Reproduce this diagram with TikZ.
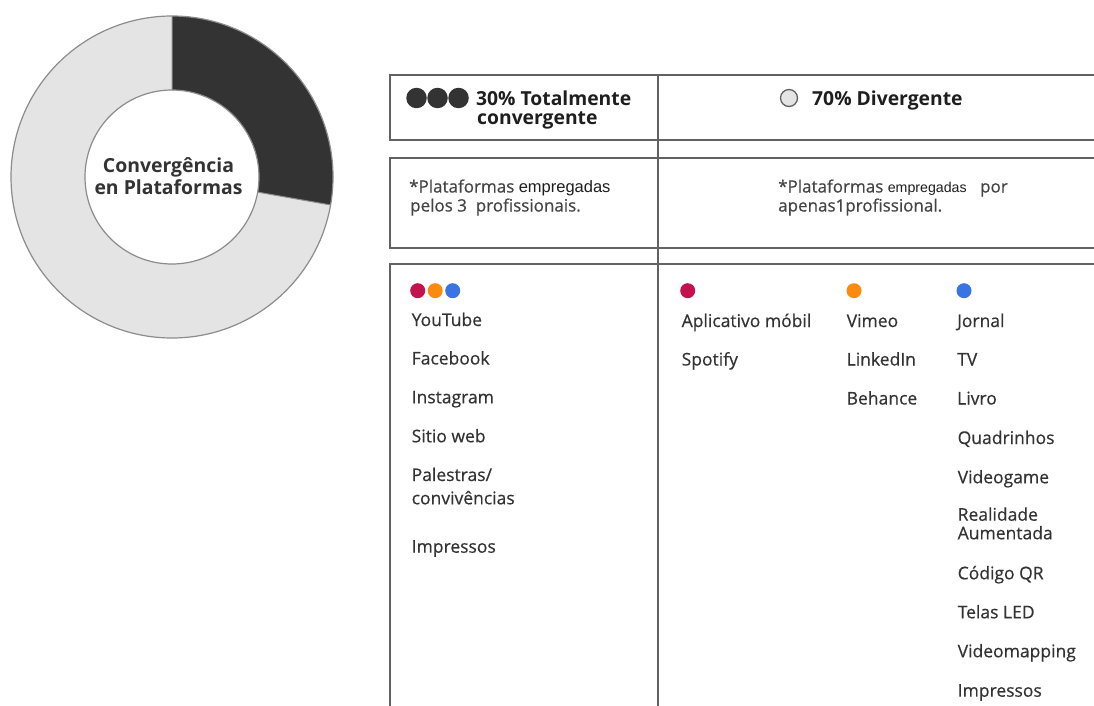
\documentclass[tikz,border=0pt]{standalone}
\usepackage{fontspec}
\setmainfont{Open Sans}
\newfontfamily\arialf{Liberation Sans}
\newfontfamily\itemf[FakeBold=0.45]{Open Sans}
\definecolor{slicedark}{HTML}{333333}
\definecolor{slicelight}{HTML}{E4E4E4}
\definecolor{ringline}{HTML}{8C8C8C}
\definecolor{tabline}{HTML}{626262}
\definecolor{itemgray}{HTML}{333333}
\definecolor{notegray}{HTML}{444444}
\definecolor{headgray}{HTML}{1E1E1E}
\definecolor{pred}{HTML}{C4124F}
\definecolor{porange}{HTML}{FB8A0E}
\definecolor{pblue}{HTML}{3A74E4}
\begin{document}
\begin{tikzpicture}[x=1pt,y=-1pt,
  item/.style={anchor=base west, inner sep=0pt, text=itemgray, font=\itemf\fontsize{17.5}{21}\selectfont},
  head/.style={anchor=base west, inner sep=0pt, text=headgray, font=\fontsize{19.3}{22}\selectfont\bfseries},
  note/.style={anchor=base west, inner sep=0pt, text=notegray, font=\itemf\fontsize{17}{20}\selectfont},
  tab/.style={draw=tabline, line width=2pt},
  pdot/.style={circle, inner sep=0pt, minimum size=15pt},
  hdot/.style={circle, inner sep=0pt, minimum size=20.5pt, fill=slicedark}]
\useasboundingbox (0,0) rectangle (1094,706);
\clip (0,0) rectangle (1094,706);
\fill[white] (0,0) rectangle (1094,706);
% donut
\coordinate (c) at (172,177);
\fill[slicelight, even odd rule] (c) circle[radius=161pt] (c) circle[radius=87pt];
\fill[slicedark] ([shift={(90:161pt)}]c) arc[start angle=90, end angle=-10, radius=161pt]
  -- ([shift={(-10:87pt)}]c) arc[start angle=-10, end angle=90, radius=87pt] -- cycle;
\draw[ringline, line width=1.2pt] (c) circle[radius=161pt] (c) circle[radius=87pt];
\draw[ringline, line width=1pt] ([shift={(90:87pt)}]c) -- ([shift={(90:161pt)}]c)
  ([shift={(-10:87pt)}]c) -- ([shift={(-10:161pt)}]c);
\node[align=center, inner sep=0pt, text=slicedark, font=\fontsize{19.4}{21.7}\selectfont\bfseries] (ctext) at (168.5,176) {Convergência\\en Plataformas};
% table
\draw[tab] (1100,75) -- (390,75) -- (390,140) -- (1100,140);
\draw[tab] (1100,158) -- (390,158) -- (390,248) -- (1100,248);
\draw[tab] (1100,264) -- (390,264) -- (390,712);
\draw[tab] (657.5,74) -- (657.5,712);
% header row
\node[hdot] (d1) at (416.5,98) {};
\node[hdot] (d2) at (437.5,98) {};
\node[hdot] (d3) at (458.5,98) {};
\node[head] (h1a) at (476,105.5) {30\% Totalmente};
\node[head] (h1b) at (477,124.5) {convergente};
\node[circle, inner sep=0pt, minimum size=17pt, fill=slicelight, draw=tabline, line width=1.3pt] (dc) at (789,98) {};
\node[head] (h2) at (812,105.5) {70\% Divergente};
% note row
\node[note] (n1a) at (409,192.5) {*Plataformas {\arialf\fontsize{16.5}{20}\selectfont\color{headgray} empregadas}};
\node[note] (n1b) at (410,211.5) {pelos 3\ \ profissionais.};
\node[note] (n2a) at (778,192.5) {*Plataformas {\arialf\fontsize{14.2}{20}\selectfont\color{headgray} empregadas}\hspace{9pt} por};
\node[note] (n2b) at (778,211.5) {apenas1profissional.};
% platform dots
\node[pdot, fill=pred] (r0) at (417.7,290.7) {};
\node[pdot, fill=porange] (o0) at (435.2,290.7) {};
\node[pdot, fill=pblue] (b0) at (452.7,290.7) {};
\node[pdot, fill=pred] (r1) at (687.7,290.7) {};
\node[pdot, fill=porange] (o1) at (854,290.7) {};
\node[pdot, fill=pblue] (b1) at (964,290.7) {};
% column 1
\node[item] (a1) at (411.5,326) {YouTube};
\node[item] (a2) at (411.5,364.5) {Facebook};
\node[item] (a3) at (411.5,403.3) {Instagram};
\node[item] (a4) at (411.5,442.3) {Sitio web};
\node[item] (a5) at (411.5,481) {Palestras/};
\node[item] (a5b) at (411.5,504.3) {convivências};
\node[item] (a6) at (411.5,552.7) {Impressos};
% column 2
\node[item] (m1) at (681.5,327) {Aplicativo móbil};
\node[item] (m2) at (681.5,365.5) {Spotify};
% column 3
\node[item] (v1) at (846.5,327) {Vimeo};
\node[item] (v2) at (846.5,365.5) {LinkedIn};
\node[item] (v3) at (846.5,404.5) {Behance};
% column 4
\node[item] (j1) at (957,327) {Jornal};
\node[item] (j2) at (957,365.5) {TV};
\node[item] (j3) at (957,404.5) {Livro};
\node[item] (j4) at (957.5,444) {Quadrinhos};
\node[item] (j5) at (957.5,483.3) {Videogame};
\node[item] (j6) at (957.5,520.7) {Realidade};
\node[item] (j6b) at (957.5,539.3) {Aumentada};
\node[item] (j7) at (957.5,579.3) {Código QR};
\node[item] (j8) at (957.5,618.3) {Telas LED};
\node[item] (j9) at (957.5,657.3) {Videomapping};
\node[item] (j10) at (957.5,696.7) {Impressos};
\end{tikzpicture}
\end{document}
